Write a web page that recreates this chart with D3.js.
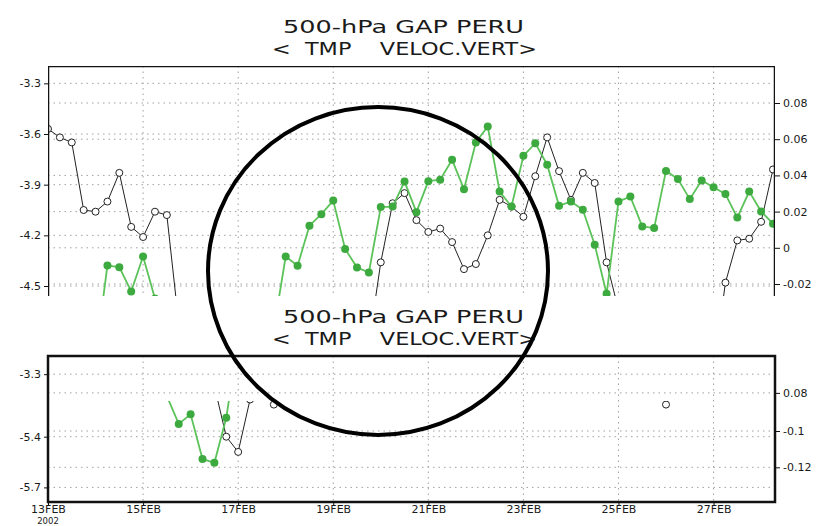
<!DOCTYPE html>
<html>
<head>
<meta charset="utf-8">
<script src="https://cdn.jsdelivr.net/npm/d3@7"></script>
<style>
  body { margin: 0; background: #fff; }
  svg text { font-family: "DejaVu Sans", sans-serif; fill: #1a1a1a; }
  .grid line { stroke: #a0a0a0; stroke-width: 1; stroke-dasharray: 1.5,4; }
</style>
</head>
<body>
<svg width="818" height="526"></svg>
<script>
const gap = n => Array(n).fill(null);

// 6-hourly steps from 13FEB2002 00Z, null where the curve is off the frame
let tmp = [-3.57, -3.62, -3.65, -4.05, -4.06, -4.00, -3.83, -4.15, -4.21, -4.06, -4.08, -4.72,
  ...gap(15),
  -4.84, -4.36, -4.01, -3.95, -4.11, -4.18, -4.16, -4.24, -4.40, -4.37, -4.20, -3.99,
  -4.03, -4.09, -3.85, -3.62, -3.82, -3.99, -3.83, -3.89, -4.36, -4.64,
  ...gap(7),
  -5.00, -4.48, -4.23, -4.22, -4.12, -3.81];

let vv = [...gap(4),
  -0.060, -0.0098, -0.0107, -0.0241, -0.0048, -0.028,
  ...gap(9),
  -0.045, -0.0048, -0.0099, 0.0122, 0.0186, 0.0261, -0.0006, -0.0109, -0.0136, 0.0225,
  0.0228, 0.0366, 0.0197, 0.0368, 0.0376, 0.0486, 0.0324, 0.0582, 0.067, 0.0311,
  0.0228, 0.0508, 0.0578, 0.0459, 0.0232, 0.0256, 0.021, 0.0017, -0.0254, 0.0256,
  0.0283, 0.0118, 0.0109, 0.0425, 0.038, 0.0269, 0.0372, 0.0335, 0.0297, 0.0167,
  0.0311, 0.0201, 0.0133];

// second (lower) copy of the plot
let tmpLow = [...gap(14), -5.10, -5.40, -5.49, -5.18, -5.06, -5.21, -5.00,
  ...gap(30), -4.90, -5.21, -4.90, ...gap(8)];
let vvLow = [...gap(10), -0.0807, -0.0961, -0.0908, -0.1154, -0.1175, -0.0927, -0.05,
  ...gap(45)];

let dayTicks = [13, 15, 17, 19, 21, 23, 25, 27];
let dayLabels = ["13FEB", "15FEB", "17FEB", "19FEB", "21FEB", "23FEB", "25FEB", "27FEB"];
let tmpTicks = [-3.3, -3.6, -3.9, -4.2, -4.5];
let tmpTickLabels = ["-3.3", "-3.6", "-3.9", "-4.2", "-4.5"];
let vvTicks = [0.08, 0.06, 0.04, 0.02, 0, -0.02];
let vvTickLabels = ["0.08", "0.06", "0.04", "0.02", "0", "-0.02"];
let tmpLowTicks = [-5.03, -5.4, -5.7];
let tmpLowTickLabels = ["-3.3", "-5.4", "-5.7"];
let vvLowTicks = [-0.079, -0.1, -0.12];
let vvLowTickLabels = ["0.08", "-0.1", "-0.12"];
let titleLines = ["500-hPa GAP PERU", "<  TMP    VELOC.VERT>"];

let svg = d3.select("svg");
const left = 48, right = 775;

let x = d3.scaleLinear().domain([0, 61.17]).range([left, right]);
let dayX = d => x((d - 13) * 4);

let yTmp = d3.scaleLinear().domain([-3.6, -4.5]).range([134, 286]);
let yVv = d3.scaleLinear().domain([0.08, -0.02]).range([103, 284]);
let yTmpLow = d3.scaleLinear().domain([-5.4, -5.7]).range([436.7, 487.4]);
let yVvLow = d3.scaleLinear().domain([-0.1, -0.12]).range([431, 467.3]);

let defs = svg.append("defs");
defs.append("clipPath").attr("id", "clipTop")
  .append("rect").attr("x", left).attr("y", 66).attr("width", right - left).attr("height", 230);
defs.append("clipPath").attr("id", "clipLow")
  .append("rect").attr("x", left).attr("y", 401).attr("width", right - left).attr("height", 101);

function title(yBase) {
  svg.append("text")
    .attr("x", 283).attr("y", yBase - 22)
    .attr("font-size", 18).attr("textLength", 241).attr("lengthAdjust", "spacingAndGlyphs")
    .text(titleLines[0]);
  svg.append("text")
    .attr("x", 272).attr("y", yBase)
    .style("white-space", "pre")
    .attr("font-size", 18).attr("textLength", 265).attr("lengthAdjust", "spacingAndGlyphs")
    .text(titleLines[1]);
}

function grid(g, y0, y1, ys) {
  let gr = g.append("g").attr("class", "grid");
  gr.selectAll("line.h")
    .data(ys)
    .join("line")
      .attr("class", "h")
      .attr("x1", left).attr("x2", right)
      .attr("y1", d => d).attr("y2", d => d);
  gr.selectAll("line.v")
    .data(dayTicks.slice(1))
    .join("line")
      .attr("class", "v")
      .attr("x1", dayX).attr("x2", dayX)
      .attr("y1", y0).attr("y2", y1);
}

function axes(g, yl, lt, ll, yr, rt, rl) {
  let a = g.append("g").attr("transform", `translate(${left},0)`)
    .call(d3.axisLeft(yl).tickValues(lt).tickFormat((d, i) => ll[i]).tickSize(4).tickPadding(3));
  let b = g.append("g").attr("transform", `translate(${right},0)`)
    .call(d3.axisRight(yr).tickValues(rt).tickFormat((d, i) => rl[i]).tickSize(5).tickPadding(3));
  [a, b].forEach(s => {
    s.select(".domain").remove();
    s.attr("font-family", null).attr("font-size", 11);
    s.selectAll("line").attr("stroke", "#111");
  });
}

function series(g, data, yScale, kind) {
  let line = d3.line()
    .defined(d => d != null)
    .x((d, i) => x(i))
    .y(d => yScale(d));
  let pts = data.map((v, i) => ({i, v})).filter(d => d.v != null);
  if (kind == "tmp") {
    g.append("path").datum(data)
      .attr("fill", "none").attr("stroke", "#222").attr("stroke-width", 1)
      .attr("d", line);
    g.selectAll(null).data(pts).join("circle")
      .attr("cx", d => x(d.i)).attr("cy", d => yScale(d.v)).attr("r", 3.5)
      .attr("fill", "#fff").attr("stroke", "#222").attr("stroke-width", 1);
  } else {
    g.append("path").datum(data)
      .attr("fill", "none").attr("stroke", "#5cc25a").attr("stroke-width", 1.8)
      .attr("d", line);
    g.selectAll(null).data(pts).join("circle")
      .attr("cx", d => x(d.i)).attr("cy", d => yScale(d.v)).attr("r", 4)
      .attr("fill", "#3daa3f");
  }
}

// ---- upper plot (cut off at the bottom) ----
title(55);
let upper = svg.append("g").attr("clip-path", "url(#clipTop)");
grid(upper, 66, 296, tmpTicks.map(yTmp).concat(vvTicks.map(yVv)));
series(upper.append("g"), tmp, yTmp, "tmp");
series(upper.append("g"), vv, yVv, "vv");
upper.append("path")
  .attr("d", `M${left},297V66H${right}V297`)
  .attr("fill", "none").attr("stroke", "#111").attr("stroke-width", 2.5);
axes(svg.append("g"), yTmp, tmpTicks, tmpTickLabels, yVv, vvTicks, vvTickLabels);

// ---- lower plot ----
title(345);
let low = svg.append("g");
grid(low, 356, 502, tmpLowTicks.map(yTmpLow).concat(vvLowTicks.map(yVvLow)));
let lowData = low.append("g").attr("clip-path", "url(#clipLow)");
series(lowData.append("g"), tmpLow, yTmpLow, "tmp");
series(lowData.append("g"), vvLow, yVvLow, "vv");
low.append("rect")
  .attr("x", left).attr("y", 356).attr("width", right - left).attr("height", 146)
  .attr("fill", "none").attr("stroke", "#111").attr("stroke-width", 2.5);
axes(low, yTmpLow, tmpLowTicks, tmpLowTickLabels, yVvLow, vvLowTicks, vvLowTickLabels);

let xa = low.append("g").attr("transform", "translate(0,502)")
  .call(d3.axisBottom(x)
    .tickValues(dayTicks.map(d => (d - 13) * 4))
    .tickFormat((d, i) => dayLabels[i])
    .tickSize(3).tickPadding(0));
xa.select(".domain").remove();
xa.attr("font-family", null).attr("font-size", 11);
xa.selectAll("line").attr("stroke", "#111");
low.append("text")
  .attr("x", left).attr("y", 523.5)
  .attr("text-anchor", "middle").attr("font-size", 8.5)
  .text("2002");

// hand-drawn ring over the page
svg.append("ellipse")
  .attr("cx", 378).attr("cy", 271).attr("rx", 170).attr("ry", 164)
  .attr("fill", "none").attr("stroke", "#000").attr("stroke-width", 4);
</script>
</body>
</html>
